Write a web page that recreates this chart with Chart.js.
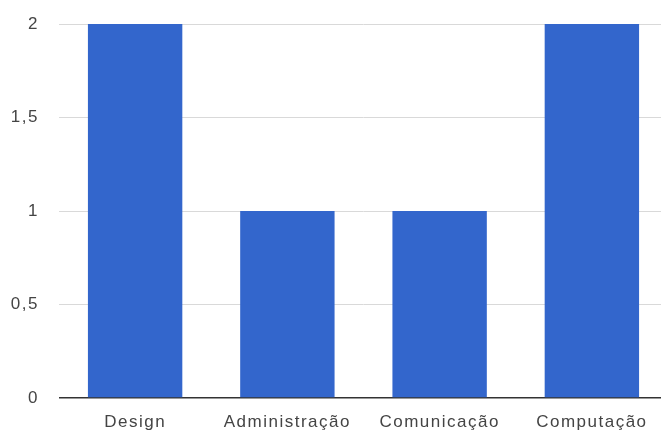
<!DOCTYPE html>
<html>
<head>
<meta charset="utf-8">
<script src="https://cdn.jsdelivr.net/npm/chart.js@4/dist/chart.umd.min.js"></script>
<style>
  html, body { margin: 0; padding: 0; background: #ffffff; overflow: hidden; }
  #wrap { width: 668px; height: 434px; }
</style>
</head>
<body>
<div id="wrap"><canvas id="chart" width="668" height="434"></canvas></div>
<script>
// Cursos e número de alunos por curso
const categories = ['Design', 'Administração', 'Comunicação', 'Computação'];
const values = [2, 1, 1, 2];
const yTicks = [0, 0.5, 1, 1.5, 2];

const FONT = { family: '"Liberation Sans", Arial, sans-serif', size: 17 };

// Slightly spaced-out lettering for all axis text
const spacing = {
  id: 'spacing',
  beforeLayout(chart) { chart.ctx.letterSpacing = '1.5px'; },
  beforeDraw(chart) { chart.ctx.letterSpacing = '1.5px'; }
};

new Chart(document.getElementById('chart'), {
  type: 'bar',
  data: {
    labels: categories,
    datasets: [{
      data: values,
      backgroundColor: '#3366cc',
      borderWidth: 0,
      barPercentage: 0.62,
      categoryPercentage: 1.0
    }]
  },
  plugins: [spacing],
  options: {
    responsive: false,
    animation: false,
    devicePixelRatio: 1,
    layout: { padding: { top: 24, right: 0, bottom: 0, left: 0 } },
    plugins: {
      legend: { display: false },
      tooltip: { enabled: false }
    },
    scales: {
      x: {
        grid: { display: false, drawTicks: false },
        border: { display: false },
        ticks: {
          color: '#444444',
          font: FONT,
          padding: 14,
          maxRotation: 0,
          autoSkip: false
        },
        afterFit(scale) {
          scale.height = 36;
          scale.paddingLeft = 0; scale.paddingRight = 0;
          scale.paddingTop = 0; scale.paddingBottom = 0;
        }
      },
      y: {
        min: yTicks[0],
        max: yTicks[yTicks.length - 1],
        afterBuildTicks(scale) { scale.ticks = yTicks.map(v => ({ value: v })); },
        grid: {
          drawTicks: false,
          color: c => (c.tick && c.tick.value === 0) ? '#333333' : '#d9d9d9',
          lineWidth: c => (c.tick && c.tick.value === 0) ? 1.5 : 1
        },
        border: { display: false },
        ticks: {
          color: '#444444',
          font: FONT,
          padding: 20,
          callback: v => String(v).replace('.', ',')
        },
        afterFit(scale) {
          scale.width = 59;
          scale.paddingTop = 0; scale.paddingBottom = 0;
          scale.paddingLeft = 0; scale.paddingRight = 0;
        }
      }
    }
  }
});
</script>
</body>
</html>
